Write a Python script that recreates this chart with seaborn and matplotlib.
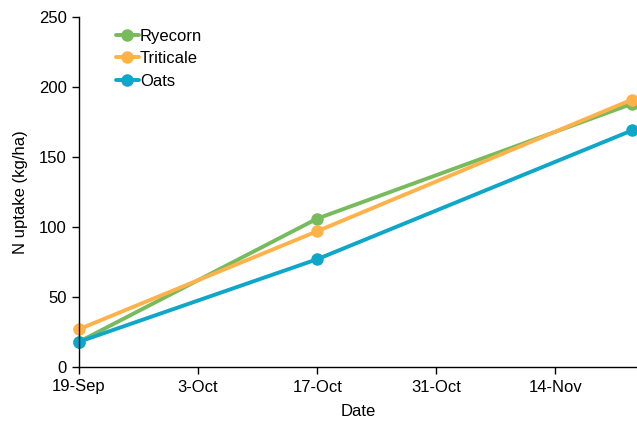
import pandas as pd
import matplotlib.pyplot as plt
import matplotlib.dates as mdates
import seaborn as sns

# data
dates = ["2015-09-19", "2015-10-17", "2015-11-23"]
ryecorn = [18, 106, 188]
triticale = [27, 97, 191]
oats = [18, 77, 169]
crops = ["Ryecorn", "Triticale", "Oats"]
colors = ["#77bb5c", "#ffb24a", "#0ea7c9"]
tick_dates = ["2015-09-19", "2015-10-03", "2015-10-17", "2015-10-31", "2015-11-14"]

df = pd.DataFrame({
    "Date": pd.to_datetime(dates * 3),
    "N uptake": ryecorn + triticale + oats,
    "Crop": [c for c in crops for _ in dates],
})

sns.set_style("white", {"text.color": "black", "axes.labelcolor": "black",
                        "xtick.color": "black", "ytick.color": "black"})
plt.rcParams["font.family"] = ["Liberation Sans", "DejaVu Sans"]
fs = 12

fig = plt.figure(figsize=(6.37, 4.22), dpi=100)
ax = fig.add_axes([79 / 637, 55 / 422, 558 / 637, 350 / 422])

sns.lineplot(data=df, x="Date", y="N uptake", hue="Crop", palette=colors,
             marker="o", markersize=9, markeredgewidth=0, linewidth=2.8,
             ax=ax, clip_on=False)

ax.set_xlim(pd.Timestamp("2015-09-19"), pd.Timestamp("2015-11-23") + pd.Timedelta(hours=14))
ax.set_ylim(0, 250)
ax.set_yticks(range(0, 251, 50))
ax.set_xticks(pd.to_datetime(tick_dates))
ax.xaxis.set_major_formatter(mdates.DateFormatter("%-d-%b"))
ax.set_xlabel("Date", fontsize=fs, labelpad=7)
ax.set_ylabel("N uptake (kg/ha)", fontsize=fs, labelpad=8)

for s in ["top", "right"]:
    ax.spines[s].set_visible(False)
for s in ["left", "bottom"]:
    ax.spines[s].set_color("black")
    ax.spines[s].set_linewidth(1)
ax.tick_params(axis="both", direction="out", length=5, width=1, color="black",
               labelcolor="black", labelsize=fs, left=True, bottom=True, pad=4)

leg = ax.legend(title=None, frameon=False, loc="upper left",
                bbox_to_anchor=(0.045, 1.0), handlelength=1.4, handletextpad=0.05,
                labelspacing=0.45, fontsize=fs, borderaxespad=0.3)

fig.savefig("out.png", dpi=100)
